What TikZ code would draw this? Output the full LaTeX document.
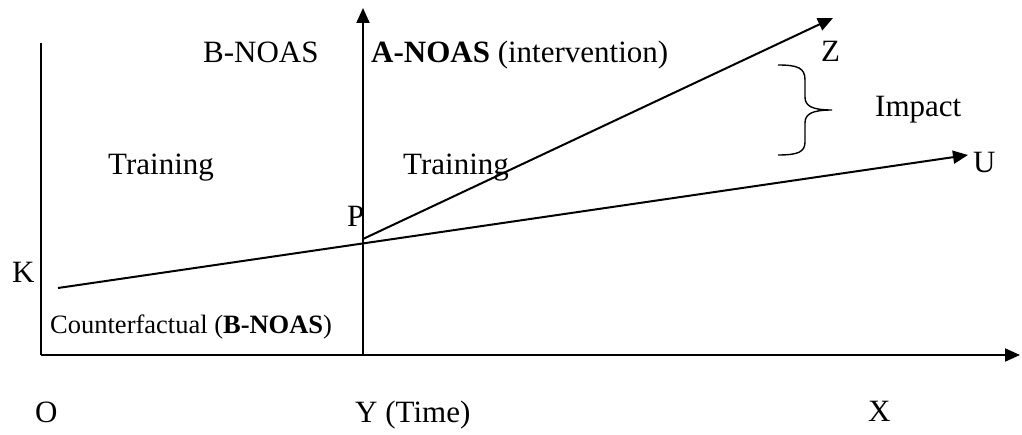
\documentclass[tikz,border=0pt]{standalone}
\usepackage{fontspec}
\setmainfont{Liberation Serif}
\usetikzlibrary{arrows.meta}
\begin{document}
\begin{tikzpicture}[x=1pt,y=-1pt,
  lbl/.style={inner sep=0pt,anchor=base west,font=\fontsize{31}{36}\selectfont},
  small/.style={inner sep=0pt,anchor=base west,font=\fontsize{26.5}{30}\selectfont},
  axis/.style={line width=2pt},
  arr/.style={line width=2pt,-{Triangle[length=15pt,width=13pt]}},
  brace/.style={line width=1.4pt}]
\useasboundingbox (0,0) rectangle (1022,435);
% coordinates
\coordinate (top) at (41,43);
\coordinate (origin) at (41,355);
\coordinate (xend) at (1020,355);
\coordinate (ybot) at (363,354);
\coordinate (ytop) at (363,8);
\coordinate (kstart) at (58,288);
\coordinate (uend) at (968,155);
\coordinate (pstart) at (363,239);
\coordinate (zend) at (833,18);
% axes
\draw[axis] (top) -- (origin);
\draw[arr] (origin) -- (xend);
\draw[arr] (ybot) -- (ytop);
% lines
\draw[arr] (kstart) -- (uend);
\draw[arr] (pstart) -- (zend);
% brace
\draw[brace] (778,65) .. controls (798,65) and (805,68) .. (805,80) -- (805,97)
  .. controls (805,106) and (812,110) .. (832,110)
  .. controls (812,110) and (805,114) .. (805,123) -- (805,142)
  .. controls (805,152) and (798,155) .. (778,155);
% labels
\node[lbl] (bnoas) at (203,63) {B-NOAS};
\node[lbl] (anoas) at (371,63) {\textbf{A-NOAS} (intervention)};
\node[lbl] (trainL) at (108,175) {Training};
\node[lbl] (trainR) at (403,175) {Training};
\node[lbl] (Z) at (821,62) {Z};
\node[lbl] (impact) at (875,117) {Impact};
\node[lbl] (U) at (973,173) {U};
\node[lbl] (P) at (347,227) {P};
\node[lbl] (K) at (12,283) {K};
\node[small] (cf) at (50,334) {Counterfactual (\textbf{B-NOAS})};
\node[lbl] (O) at (35,422) {O};
\node[lbl] (Ytime) at (355,422) {Y (Time)};
\node[lbl] (X) at (868,421) {X};
\end{tikzpicture}
\end{document}
